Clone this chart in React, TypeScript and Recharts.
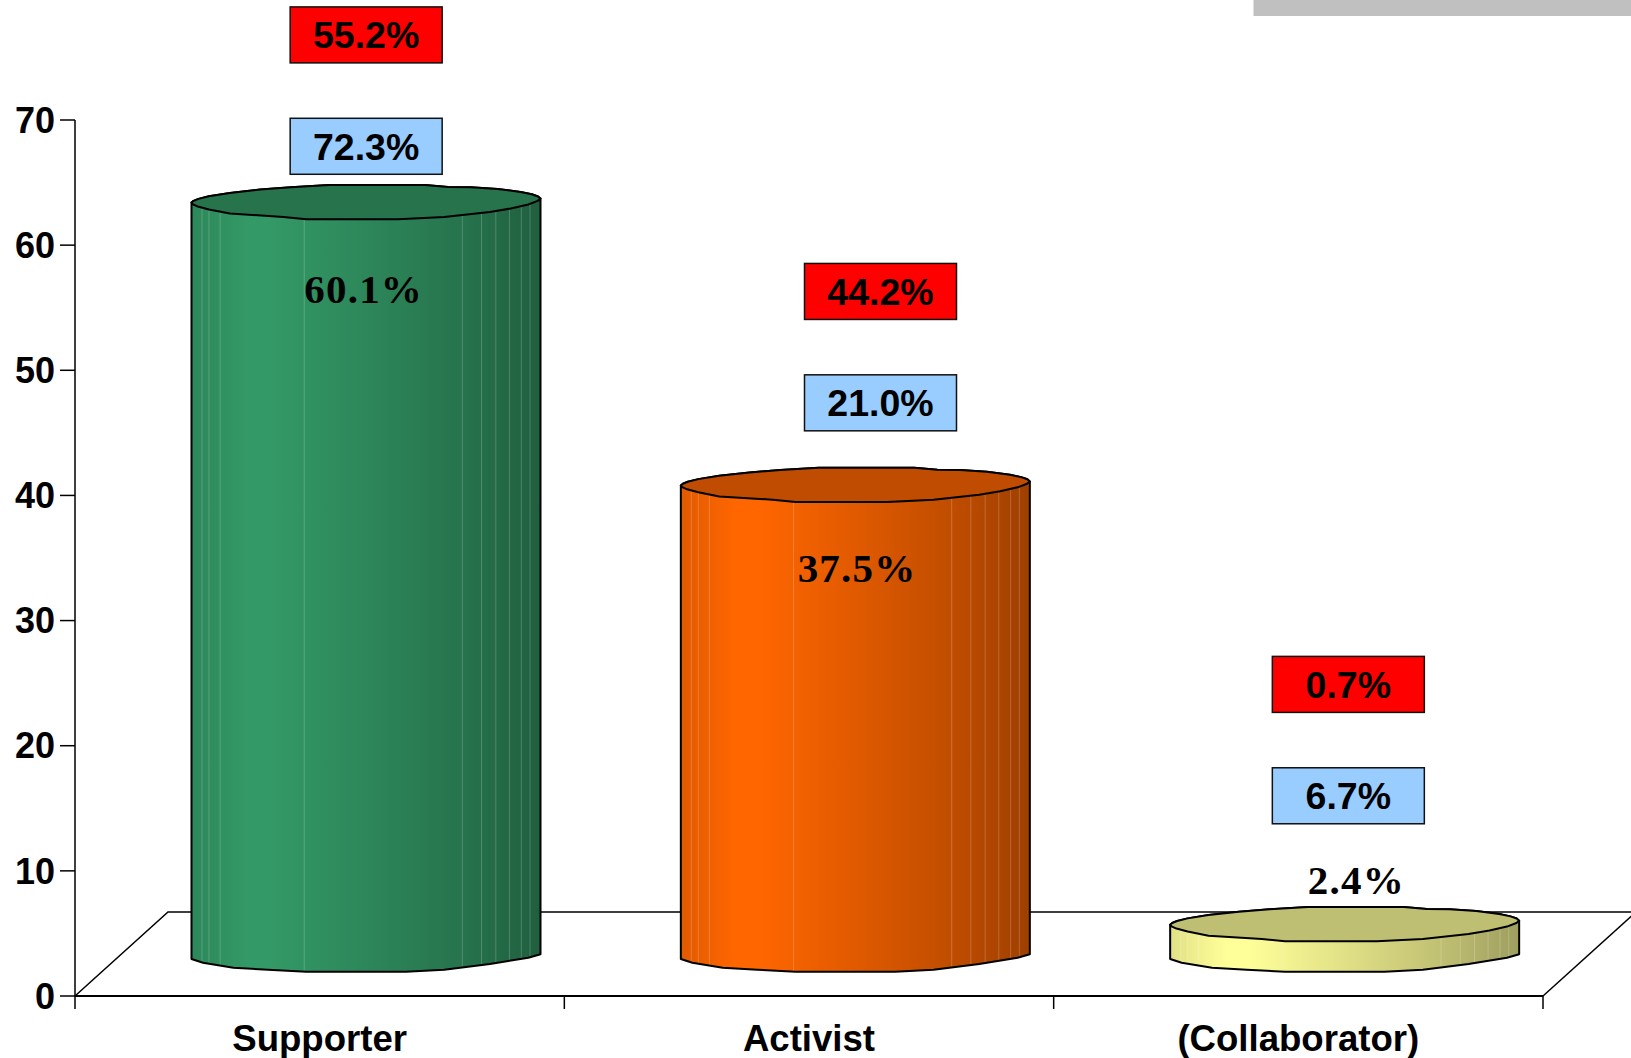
import { BarChart, Bar, XAxis, YAxis, ReferenceDot, Customized } from 'recharts'

const categories = ['Supporter', 'Activist', '(Collaborator)']
const mainValues = [60.1, 37.5, 2.4]
const mainLabels = ['60.1%', '37.5%', '2.4%']
const blueLabels = ['72.3%', '21.0%', '6.7%']
const redLabels = ['55.2%', '44.2%', '0.7%']
const yTicks = [0, 10, 20, 30, 40, 50, 60, 70]

// where the hand placed labels sit, in axis units
const mainLabelLevels = [56.4, 34.1, 9.2]
const blueBoxLevels = [67.9, 47.4, 16]
const redBoxLevels = [76.8, 56.3, 24.9]

const BAR_COLORS = ['#339966', '#FF6600', '#FFFF99']
const TOP_COLORS = ['#26734C', '#BF4C00', '#BFBF73']
const MAIN_LABEL_DX = [44, 48, 58]
const BOX_DX = [46.5, 71.5, 50]

const WIDTH = 1631
const HEIGHT = 1058
const LEFT = 75
const RIGHT = 1543
const TOP = 120
const BOTTOM = 996
const BAND = (RIGHT - LEFT) / 3
const DEPTH_X = 93
const DEPTH_Y = 84
const SANS = '"Liberation Sans", Arial, sans-serif'
const SERIF = '"Liberation Serif", "Times New Roman", serif'

const HIGHLIGHTS = [0.03, 0.05, 0.082, 0.323, 0.776, 0.831, 0.872, 0.911, 0.945, 0.97]

// faceted outline of the cylinder ends: [fraction of width, px from the end's centre]
const LID_UPPER = [[0, 0.7], [0.006, -1], [0.02, -3], [0.05, -5.6], [0.11, -8.9], [0.197, -12.3], [0.285, -14.6], [0.395, -16.9], [0.669, -16.9], [0.735, -14.9], [0.8, -14.6], [0.877, -12.9], [0.943, -9.9], [0.975, -7.6], [0.993, -5.4], [1, -3.3]]
const LID_LOWER = [[1, -3.3], [0.992, -1], [0.965, 2.6], [0.915, 6.6], [0.855, 10], [0.724, 15], [0.592, 17.4], [0.329, 17.4], [0.263, 15], [0.11, 11.7], [0.05, 7.6], [0.018, 4.6], [0.004, 2.4], [0, 0.7]]
const BASE_LOWER = [[0, 5], [0.033, 8.7], [0.12, 13.7], [0.219, 15.7], [0.329, 17.7], [0.614, 17.7], [0.724, 15.7], [0.855, 10], [0.965, 3.7], [1, 0.3]]

const data = categories.map((name, i) => ({ name, value: mainValues[i] }))

function Cylinder({ x, y, width, height, index }: any) {
  const left = x + DEPTH_X / 2
  const topY = y - DEPTH_Y / 2
  const baseY = y + height - DEPTH_Y / 2
  const pts = (list: number[][], cy: number) =>
    list.map(([f, d]) => `${left + f * width},${cy + d}`).join(' L')
  const lid = `M${pts(LID_UPPER, topY)} L${pts(LID_LOWER, topY)} Z`
  const body = `M${pts(BASE_LOWER, baseY)} L${pts(LID_UPPER.slice().reverse(), topY)} Z`
  return (
    <g>
      <clipPath id={`cyl-${index}`}>
        <path d={body} />
      </clipPath>
      <path d={body} fill={BAR_COLORS[index]} />
      <path d={body} fill="url(#cylShade)" />
      <g clipPath={`url(#cyl-${index})`}>
        {HIGHLIGHTS.map((f) => (
          <line
            key={f}
            x1={left + f * width}
            x2={left + f * width}
            y1={topY - 20}
            y2={baseY + 20}
            stroke="#fff"
            strokeOpacity={0.2}
          />
        ))}
      </g>
      <path d={body} fill="none" stroke="#000" strokeWidth={2} strokeLinejoin="round" />
      <path d={lid} fill={TOP_COLORS[index]} stroke="#000" strokeWidth={2} strokeLinejoin="round" />
    </g>
  )
}

function Floor() {
  return (
    <g fill="none" stroke="#000" strokeWidth={1.5}>
      <path d={`M${LEFT},${BOTTOM} L${LEFT + DEPTH_X},${BOTTOM - DEPTH_Y} L${WIDTH + 5},${BOTTOM - DEPTH_Y}`} />
      <path d={`M${RIGHT},${BOTTOM} L${RIGHT + DEPTH_X},${BOTTOM - DEPTH_Y}`} />
    </g>
  )
}

function CornerBar() {
  return <rect x={1253.5} y={0} width={WIDTH - 1253.5} height={16} fill="#C0C0C0" />
}

function CategoryTick({ x, payload, index }: any) {
  const tickLeft = x - BAND / 2
  return (
    <g>
      <line x1={tickLeft} x2={tickLeft} y1={BOTTOM} y2={BOTTOM + 13} stroke="#000" strokeWidth={1.5} />
      {index === categories.length - 1 && (
        <line x1={x + BAND / 2} x2={x + BAND / 2} y1={BOTTOM} y2={BOTTOM + 13} stroke="#000" strokeWidth={1.5} />
      )}
      <text x={x} y={BOTTOM + 55} textAnchor="middle" fontFamily={SANS} fontWeight={700} fontSize={36.6} fill="#000">
        {payload.value}
      </text>
    </g>
  )
}

function BoxLabel({ cx, cy, dx, text, fill }: any) {
  const bx = cx + dx
  return (
    <g>
      <rect x={bx - 76} y={cy - 28} width={152} height={56} fill={fill} stroke="#111" strokeWidth={1.5} />
      <text x={bx} y={cy + 13.5} textAnchor="middle" fontFamily={SANS} fontWeight={700} fontSize={37.5} fill="#000">
        {text}
      </text>
    </g>
  )
}

function MainLabel({ cx, cy, text, dx }: any) {
  return (
    <text
      x={cx + dx}
      y={cy + 13}
      textAnchor="middle"
      fontFamily={SERIF}
      fontWeight={700}
      fontSize={41}
      letterSpacing={1.2}
      fill="#000"
    >
      {text}
    </text>
  )
}

export default function App() {
  return (
    <div style={{ position: 'absolute', left: 0, top: 0, width: WIDTH, height: HEIGHT, background: '#fff', overflow: 'hidden' }}>
      <BarChart
        width={WIDTH}
        height={HEIGHT}
        data={data}
        barSize={349}
        margin={{ top: TOP, right: WIDTH - RIGHT, bottom: 0, left: 0 }}
      >
        <defs>
          <linearGradient id="cylShade" x1="0" y1="0" x2="1" y2="0">
            <stop offset="0" stopColor="#000" stopOpacity={0.12} />
            <stop offset="0.16" stopColor="#000" stopOpacity={0} />
            <stop offset="0.22" stopColor="#000" stopOpacity={0} />
            <stop offset="0.5" stopColor="#000" stopOpacity={0.12} />
            <stop offset="0.78" stopColor="#000" stopOpacity={0.25} />
            <stop offset="1" stopColor="#000" stopOpacity={0.38} />
          </linearGradient>
        </defs>
        <Customized component={Floor} />
        <XAxis
          dataKey="name"
          height={HEIGHT - BOTTOM}
          tickLine={false}
          axisLine={{ stroke: '#000', strokeWidth: 2 }}
          tick={<CategoryTick />}
          interval={0}
        />
        <YAxis
          domain={[0, 70]}
          ticks={yTicks}
          width={LEFT}
          interval={0}
          tickSize={15}
          tickMargin={5}
          axisLine={{ stroke: '#000', strokeWidth: 1.5 }}
          tickLine={{ stroke: '#000', strokeWidth: 1.5 }}
          tick={{ fill: '#000', fontFamily: SANS, fontWeight: 700, fontSize: 36 }}
        />
        <Bar dataKey="value" isAnimationActive={false} shape={<Cylinder />} />
        {categories.map((name, i) => (
          <ReferenceDot
            key={`red-${name}`}
            x={name}
            y={redBoxLevels[i]}
            ifOverflow="visible"
            shape={(p: any) => <BoxLabel cx={p.cx} cy={p.cy} dx={BOX_DX[i]} text={redLabels[i]} fill="#FF0000" />}
          />
        ))}
        {categories.map((name, i) => (
          <ReferenceDot
            key={`blue-${name}`}
            x={name}
            y={blueBoxLevels[i]}
            ifOverflow="visible"
            shape={(p: any) => <BoxLabel cx={p.cx} cy={p.cy} dx={BOX_DX[i]} text={blueLabels[i]} fill="#99CCFF" />}
          />
        ))}
        {categories.map((name, i) => (
          <ReferenceDot
            key={`main-${name}`}
            x={name}
            y={mainLabelLevels[i]}
            ifOverflow="visible"
            shape={(p: any) => <MainLabel cx={p.cx} cy={p.cy} text={mainLabels[i]} dx={MAIN_LABEL_DX[i]} />}
          />
        ))}
        <Customized component={CornerBar} />
      </BarChart>
    </div>
  )
}
